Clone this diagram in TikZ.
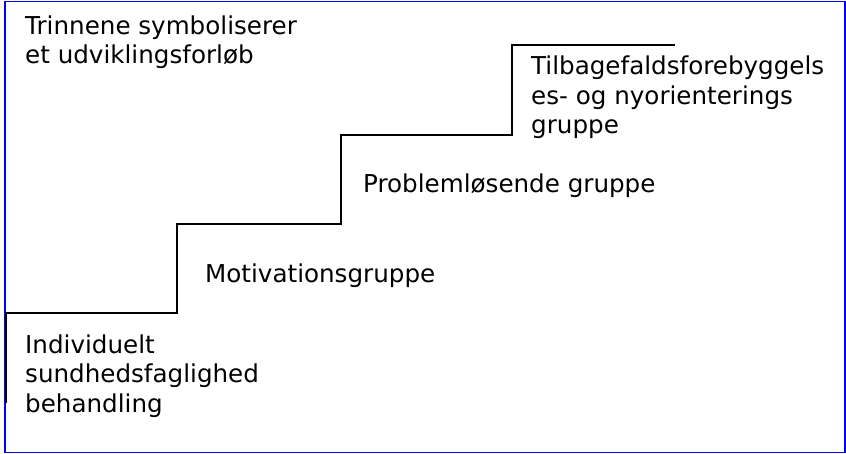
\documentclass[tikz,border=0pt]{standalone}
\usepackage{fontspec}
\setmainfont{DejaVu Sans}
\begin{document}
\begin{tikzpicture}
      [x=1pt,y=-1pt,
       every node/.style={anchor=base west,align=left,inner sep=0pt,
         font=\fontsize{24.6}{29.5}\selectfont}]
      \useasboundingbox (0,0) rectangle (846,454);
      \draw [blue,line width=1.8pt] (5,1.5) rectangle (845,452.5);

      % the last line of a node sits on its base
      \node (intro) at (25,64) {Trinnene symboliserer\\et udviklingsforløb};
      \node (n1) at (25,412) {Individuelt\\sundhedsfaglighed\\behandling};
      \node (n2) at (205,283) {Motivationsgruppe};
      \node (n3) at (363,193) {Problemløsende gruppe};
      \node (n4) at (531,134) {Tilbagefaldsforebyggels\\es- og nyorienterings\\gruppe};

      \coordinate (s0) at (6,403);
      \coordinate (s1) at (177,313);
      \coordinate (s2) at (341,224);
      \coordinate (s3) at (512,135);
      \coordinate (s4) at (675,45);
      \draw [line width=2pt] (s0) |- (s1) |- (s2) |- (s3) |- (s4);
    \end{tikzpicture}
\end{document}
